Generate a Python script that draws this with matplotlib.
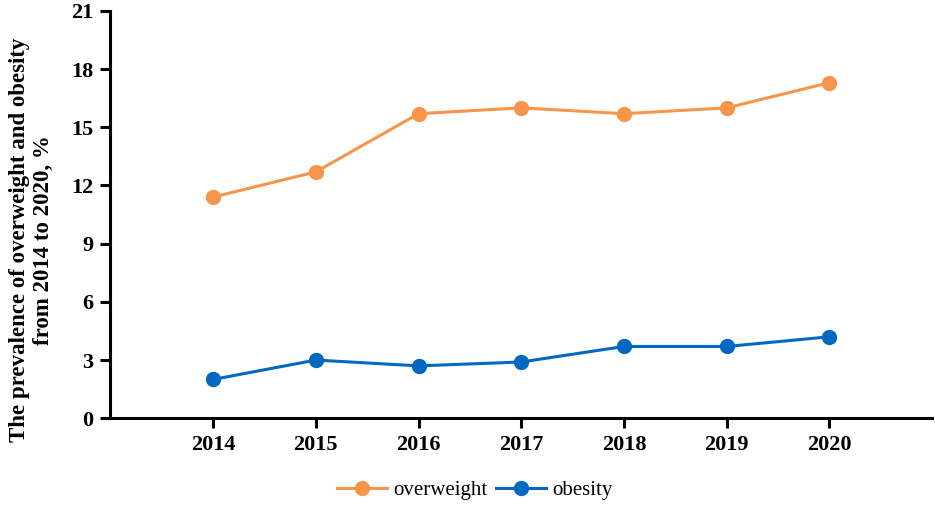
import matplotlib
matplotlib.use("Agg")
import matplotlib.pyplot as plt

years = [2014, 2015, 2016, 2017, 2018, 2019, 2020]
overweight = [11.4, 12.7, 15.7, 16.0, 15.7, 16.0, 17.3]
obesity = [2.0, 3.0, 2.7, 2.9, 3.7, 3.7, 4.2]
y_ticks = [0, 3, 6, 9, 12, 15, 18, 21]

plt.rcParams["font.family"] = ["Liberation Serif", "DejaVu Serif"]

fig = plt.figure(figsize=(9.35, 5.17), dpi=100)
ax = fig.add_axes([0.118, 0.191, 0.879, 0.788])

ax.plot(years, overweight, color="#F7964A", marker="o", markersize=10,
        linewidth=2.2, label="overweight")
ax.plot(years, obesity, color="#0068C1", marker="o", markersize=10,
        linewidth=2.2, label="obesity")

ax.set_xlim(2013, 2021)
ax.set_ylim(0, 21)
ax.set_xticks(years)
ax.set_yticks(y_ticks)
ax.set_xticklabels([str(y) for y in years], fontsize=16, fontweight="bold")
ax.set_yticklabels([str(t) for t in y_ticks], fontsize=16, fontweight="bold")
ax.tick_params(direction="out", length=7, width=2.2, pad=5)

for side in ["top", "right"]:
    ax.spines[side].set_visible(False)
for side in ["left", "bottom"]:
    ax.spines[side].set_linewidth(2.2)

ax.set_ylabel("The prevalence of overweight and obesity\nfrom 2014 to 2020, %",
              fontsize=16.5, fontweight="bold", linespacing=1.15)
# label sits a bit lower than the axis centre in the original
ax.yaxis.set_label_coords(-0.069, 0.437)

fig.legend(loc="center", bbox_to_anchor=(0.508, 0.052), ncol=2, frameon=False,
           fontsize=15, handlelength=2.4, handletextpad=0.3, columnspacing=0.4)

fig.savefig("out.png", dpi=100)
